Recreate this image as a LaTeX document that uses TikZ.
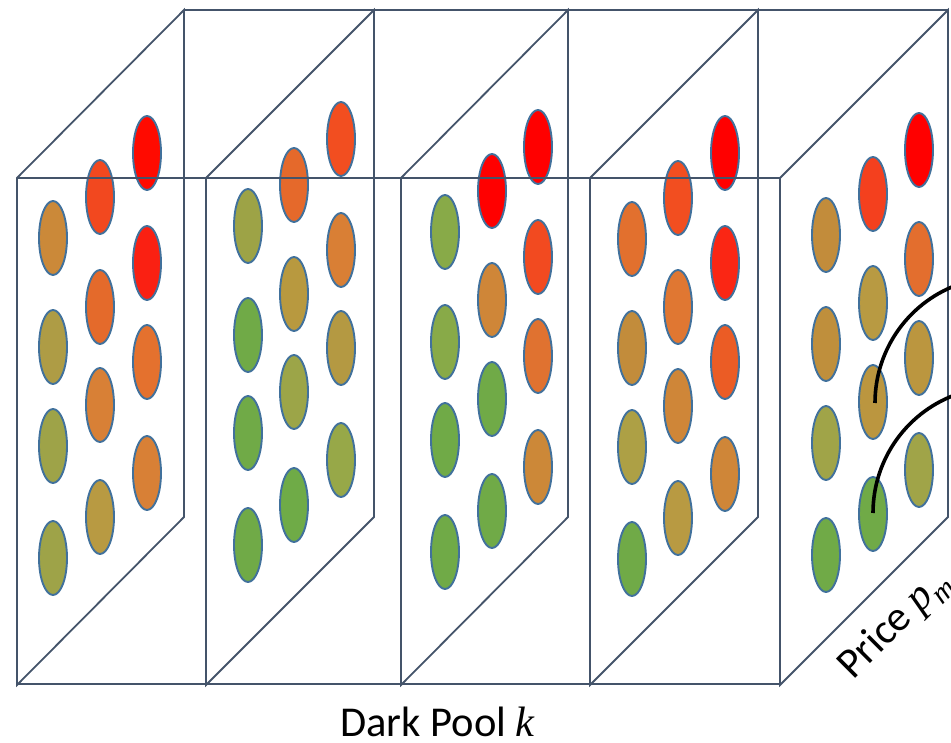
\documentclass[tikz,border=0pt]{standalone}
\usepackage{fontspec}
\setmainfont{Carlito}
\newfontfamily\varfont{Liberation Serif}
\newcommand{\varit}[1]{{\varfont\itshape #1}}
\definecolor{edge}{HTML}{44546A}
\definecolor{blobline}{HTML}{41719C}
\tikzset{
  panel/.style={draw=edge, line width=1.8pt, line join=miter},
  frontedge/.style={draw=edge, line width=2.8pt},
  blob/.style={draw=blobline, line width=1.9pt},
  lead/.style={draw=black, line width=3.6pt},
  lbl/.style={font=\fontsize{42.5}{44}\selectfont, inner sep=0pt}
}
\begin{document}
\begin{tikzpicture}[x=1pt,y=-1pt]
\useasboundingbox (0,0) rectangle (951,743);
\clip (0,0) rectangle (951,743);
% panels (slanted slices)
\foreach \xf/\xb in {17/184, 206/374, 401/568, 590/758, 780/948}{
  \draw[panel] (\xf,685) -- (\xf,178) -- (\xb,10) -- (\xb,517) -- cycle;
}
% top back edge
\draw[panel, line width=2.1pt] (184,10) -- (948,10);
% bottom front edge
\draw[frontedge] (17,684) -- (780,684);
% ellipses
\foreach \x/\y/\c in {
  53/238/CB8939, 53/347/AE9C45, 53/446/9EA348, 53/558/9EA348,
  100/197/F2481F, 100/307/E46A2B, 100/405/D88036, 100/517/B89A42,
  147/153/FF0A00, 147/263/FA2012, 147/362/E4712E, 147/473/D88036,
  248/226/9DA346, 248/335/70AA47, 248/433/70AA47, 248/545/70AA47,
  294/185/E5692B, 294/294/B8993F, 294/392/9CA548, 294/505/6FAB47,
  341/139/F24E20, 341/250/D97F35, 341/348/B49942, 341/460/97A848,
  445/232/88AA48, 445/342/88AA48, 445/440/70AA47, 445/552/70AA47,
  492/191/FF0000, 492/300/CF8638, 492/399/70AA47, 492/511/70AA47,
  538/147/FF0000, 538/257/F24A20, 538/356/E07230, 538/467/CC8838,
  632/239/E2702E, 632/348/C28C3B, 632/447/ADA045, 632/559/70AA47,
  678/198/F24E20, 678/307/E07732, 678/406/CF8638, 678/518/B89A42,
  725/153/FF0000, 725/263/FA2614, 725/362/EB5C25, 725/474/CF8638,
  826/235/C28C3B, 826/344/BF8F3C, 826/443/A0A448, 826/555/70AA47,
  873/194/F4401E, 873/303/B89A42, 873/402/BB963F, 873/514/70AA47,
  919/150/FF0000, 919/259/E36E2E, 919/358/BB963F, 919/470/A0A448}{
  \definecolor{tmpfill}{HTML}{\c}
  \draw[blob, fill=tmpfill] (\x,\y) ellipse [x radius=14, y radius=37];
}
% front top edge, drawn over the ellipses
\draw[frontedge] (17,178) -- (780,178);
% leader curves
\coordinate (l1) at (875,403);
\coordinate (l2) at (873,513);
\draw[lead] (l1) arc[start angle=180, end angle=252, radius=126];
\draw[lead] (l2) arc[start angle=180, end angle=252, radius=126];
% labels
\node[lbl, anchor=base] (dp) at (437.5,736) {Dark Pool \varit{k}};
\node[lbl, anchor=base west, rotate=45] (pr) at (853,681)
  {Price \varit{p}\raisebox{-0.22em}{\fontsize{30}{31}\selectfont\varit{m}}};
\end{tikzpicture}
\end{document}
